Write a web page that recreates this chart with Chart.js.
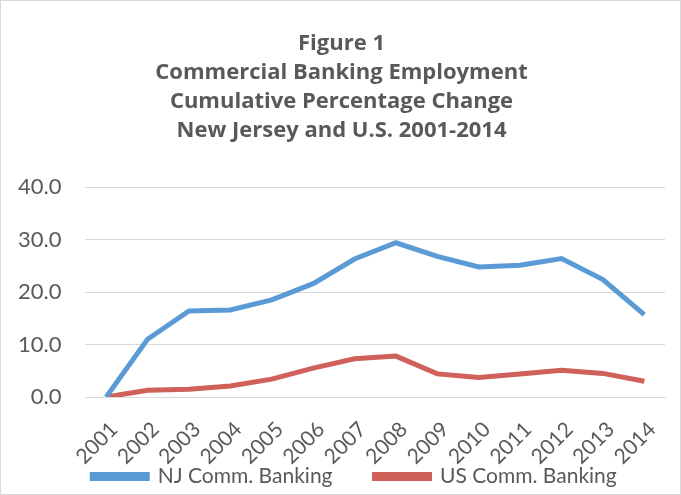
<!DOCTYPE html>
<html>
<head>
<meta charset="utf-8">
<script src="https://cdn.jsdelivr.net/npm/chart.js@4/dist/chart.umd.min.js"></script>
<style>
  html, body { margin: 0; padding: 0; background: #fff; }
  #wrap { position: relative; width: 681px; height: 495px; }
</style>
</head>
<body>
<div id="wrap"><canvas id="chart"></canvas></div>
<script>
const years = ["2001", "2002", "2003", "2004", "2005", "2006", "2007",
  "2008", "2009", "2010", "2011", "2012", "2013", "2014"];
const njBanking = [0, 11.0, 16.4, 16.6, 18.5, 21.6, 26.3, 29.4, 26.8, 24.8, 25.1, 26.4, 22.4, 15.7];
const usBanking = [0, 1.3, 1.5, 2.1, 3.4, 5.5, 7.3, 7.8, 4.4, 3.7, 4.4, 5.1, 4.5, 3.0];
const titleLines = ["Figure 1", "Commercial Banking Employment",
  "Cumulative Percentage Change", "New Jersey and U.S. 2001-2014"];

const FONT = "Lato, 'Open Sans', sans-serif";
const GREY = "#595959";

// light frame around the whole chart, like the spreadsheet chart box
const frame = {
  id: "frame",
  afterLayout(chart) {
    // the legend sits a little right of centre and lower in the original
    chart.legend.left += 13;
    chart.legend.right += 13;
    chart.legend.top += 4;
    chart.legend.bottom += 4;
    // x labels hang below the (shortened) axis box, don't clip them
    chart.scales.x.bottom = chart.height;
  },
  afterDraw(chart) {
    const { ctx, width, height } = chart;
    ctx.save();
    ctx.strokeStyle = "#d9d9d9";
    ctx.lineWidth = 1;
    ctx.strokeRect(0.5, 0.5, width - 1, height - 1);
    ctx.restore();
  }
};

new Chart(document.getElementById("chart"), {
  type: "line",
  data: {
    labels: years,
    datasets: [
      {
        label: "NJ Comm. Banking",
        data: njBanking,
        borderColor: "#5b9bd5",
        backgroundColor: "#5b9bd5",
        borderWidth: 5,
        pointRadius: 0,
        tension: 0
      },
      {
        label: "US Comm. Banking",
        data: usBanking,
        borderColor: "#d0605a",
        backgroundColor: "#d0605a",
        borderWidth: 5,
        pointRadius: 0,
        tension: 0
      }
    ]
  },
  options: {
    responsive: true,
    maintainAspectRatio: false,
    animation: false,
    layout: { padding: { left: 18, right: 16, top: 0, bottom: 2 } },
    plugins: {
      title: {
        display: true,
        text: titleLines,
        color: GREY,
        font: { family: "'Open Sans', Lato, sans-serif", size: 22, weight: "bold", lineHeight: 1.32 },
        padding: { top: 29, bottom: 42 }
      },
      legend: {
        position: "bottom",
        labels: {
          color: GREY,
          font: { family: FONT, size: 21 },
          boxWidth: 55,
          boxHeight: 4,
          padding: 42
        }
      },
      tooltip: { enabled: false }
    },
    scales: {
      x: {
        offset: true,
        grid: { display: false, drawTicks: false },
        border: { color: "#d9d9d9" },
        ticks: {
          color: GREY,
          font: { family: FONT, size: 21 },
          minRotation: 45,
          maxRotation: 45,
          autoSkip: false,
          padding: 20,
          labelOffset: 8
        },
        afterFit(scale) {
          // let the rotated labels hang into the space above the legend
          scale.paddingLeft = 0;
          scale.paddingRight = 0;
          scale.height = 23;
        }
      },
      y: {
        min: 0,
        max: 40,
        grid: { color: "#d9d9d9", lineWidth: 1, drawTicks: false },
        border: { display: false },
        ticks: {
          stepSize: 10,
          color: GREY,
          font: { family: FONT, size: 22 },
          padding: 24,
          callback: v => v.toFixed(1)
        },
        afterFit(scale) {
          // chart.js reserves the tick padding on both sides; keep only one
          scale.width -= 24;
        }
      }
    }
  },
  plugins: [frame]
});
</script>
</body>
</html>
